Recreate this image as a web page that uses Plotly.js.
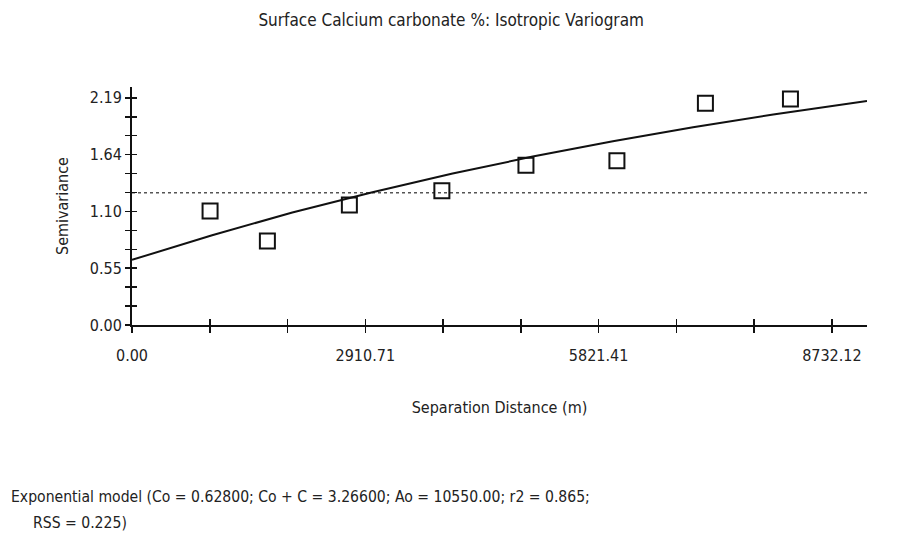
<!DOCTYPE html>
<html>
<head>
<meta charset="utf-8">
<script src="https://cdn.plot.ly/plotly-3.0.1.min.js"></script>
<style>html,body{margin:0;padding:0;background:#fff;}#chart{width:917px;height:545px;}</style>
</head>
<body>
<div id="chart"></div>
<script>
const lagDistance = [974, 1689, 2712, 3866, 4915, 6050, 7154, 8215];
const semivariance = [1.10, 0.81, 1.157, 1.295, 1.54, 1.585, 2.138, 2.18];

// Fitted exponential model curve
const modelDistance = [0, 1000, 2000, 3000, 4000, 5000, 6000, 7000, 8000, 9170];
const modelSemivariance = [0.628, 0.866, 1.084, 1.281, 1.460, 1.624, 1.772, 1.907, 2.030, 2.160];

// Sample variance (dotted line)
const varianceX = [0, 9170];
const varianceY = [1.276, 1.276];

// Axis ticks
const xTickVals = [0, 970.24, 1940.47, 2910.71, 3880.94, 4851.18, 5821.41, 6791.65, 7761.88, 8732.12];
const xTickText = ["0.00", "", "", "2910.71", "", "", "5821.41", "", "", "8732.12"];
const yTickVals = [0, 0.1825, 0.365, 0.5475, 0.73, 0.9125, 1.095, 1.2775, 1.46, 1.6425, 1.825, 2.0075, 2.19];
const yTickText = ["0.00", "", "", "0.55", "", "", "1.10", "", "", "1.64", "", "", "2.19"];

const titleText = "Surface Calcium carbonate %: Isotropic Variogram";
const xTitle = "Separation Distance (m)";
const yTitle = "Semivariance";
const footLine1 = "Exponential model (Co = 0.62800; Co + C = 3.26600; Ao = 10550.00; r2 = 0.865;";
const footLine2 = "RSS = 0.225)";

const FONT = "DejaVu Sans Condensed, Liberation Sans Narrow, Arial Narrow, sans-serif";
const XR = [0, 9170], YR = [0, 2.295];
const FS = 16;

const traces = [
  {x: varianceX, y: varianceY, mode: 'lines', line: {color: '#555', width: 1.5, dash: 'dot'}, hoverinfo: 'skip'},
  {x: modelDistance, y: modelSemivariance, mode: 'lines', line: {color: '#111', width: 2}},
  {x: lagDistance, y: semivariance, mode: 'markers',
   marker: {symbol: 'square-open', size: 15, color: '#111', line: {width: 2, color: '#111'}}},
  {x: [0], y: [0], xaxis: 'x2', yaxis: 'y2', mode: 'markers', marker: {opacity: 0}, hoverinfo: 'skip'}
];

const axisCommon = {showgrid: false, zeroline: false, showline: true, linecolor: '#111', linewidth: 2,
  tickcolor: '#111', tickwidth: 1.5, tickfont: {family: FONT, size: FS, color: '#222'}};

const layout = {
  width: 917, height: 545,
  margin: {l: 132, r: 50, t: 87, b: 220},
  paper_bgcolor: '#fff', plot_bgcolor: '#fff',
  showlegend: false,
  font: {family: FONT, color: '#222'},
  title: {text: titleText, font: {family: FONT, size: 17, color: '#222'}, x: 0.492, xanchor: 'center', y: 0.963, yanchor: 'middle'},
  xaxis: Object.assign({}, axisCommon, {range: XR, tickmode: 'array', tickvals: xTickVals, ticktext: xTickText,
    ticks: 'outside', ticklen: 6, mirror: false, ticklabelstandoff: 9,
    title: {text: xTitle, font: {family: FONT, size: FS, color: '#222'}, standoff: 38}}),
  yaxis: Object.assign({}, axisCommon, {range: YR, tickmode: 'array', tickvals: yTickVals, ticktext: yTickText,
    ticks: 'outside', ticklen: 5,
    title: {text: yTitle, font: {family: FONT, size: FS, color: '#222'}, standoff: 17}}),
  xaxis2: {overlaying: 'x', range: XR, tickmode: 'array', tickvals: xTickVals, ticks: 'inside', ticklen: 6,
    tickcolor: '#111', tickwidth: 1.5, showticklabels: false, showgrid: false, zeroline: false, showline: false, side: 'bottom', anchor: 'y2'},
  yaxis2: {overlaying: 'y', range: YR, tickmode: 'array', tickvals: yTickVals, ticks: 'inside', ticklen: 5,
    tickcolor: '#111', tickwidth: 1.5, showticklabels: false, showgrid: false, zeroline: false, showline: false, side: 'left', anchor: 'x2'},
  annotations: [
    {text: footLine1, xref: 'paper', yref: 'paper', x: -123/735, y: -172/238, xanchor: 'left', yanchor: 'middle',
     showarrow: false, font: {family: FONT, size: 15.6, color: '#222'}},
    {text: footLine2, xref: 'paper', yref: 'paper', x: -101/735, y: -198/238, xanchor: 'left', yanchor: 'middle',
     showarrow: false, font: {family: FONT, size: 15.6, color: '#222'}}
  ]
};

Plotly.newPlot('chart', traces, layout, {displayModeBar: false, staticPlot: true});
</script>
</body>
</html>
